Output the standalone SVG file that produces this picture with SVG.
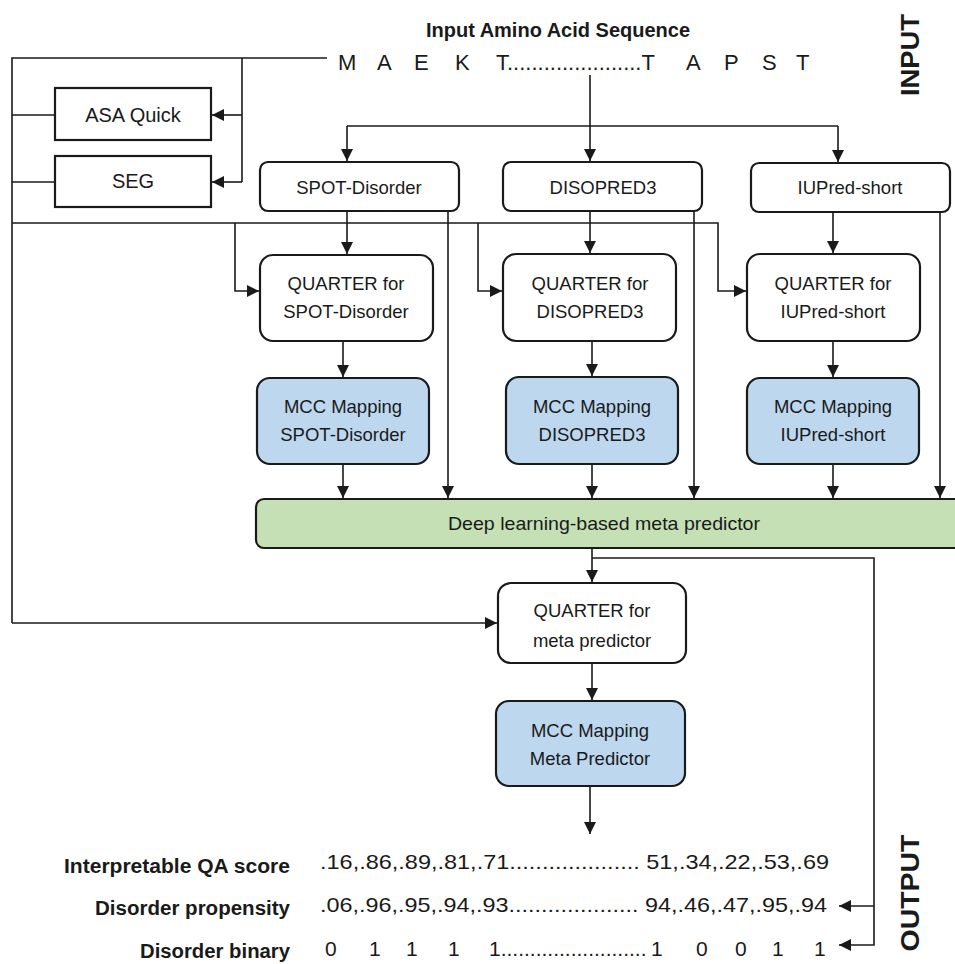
<svg xmlns="http://www.w3.org/2000/svg" width="955" height="964" viewBox="0 0 955 964">
<defs>
<style>
text{font-family:"Liberation Sans",Arial,sans-serif;fill:#1a1a1a;}
.lbl{font-size:18.5px;text-anchor:middle;}
.big{font-size:20px;text-anchor:middle;}
.b{font-weight:bold;}
.sq{fill:#fff;stroke:#1a1a1a;stroke-width:2.2;}
.rb{fill:#fff;stroke:#1a1a1a;stroke-width:2.2;}
.blue{fill:#BDD7EE;stroke:#1a1a1a;stroke-width:2.2;}
.green{fill:#C5E0B4;stroke:#1a1a1a;stroke-width:2.2;}
.ln{fill:none;stroke:#1a1a1a;stroke-width:1.6;}
.ar{fill:none;stroke:#1a1a1a;stroke-width:1.6;marker-end:url(#arr);}
.val{font-size:21px;}
.rowlbl{font-size:20px;font-weight:bold;text-anchor:end;}
</style>
<marker id="arr" viewBox="0 0 10 10" refX="10" refY="5" markerWidth="12" markerHeight="12" orient="auto" markerUnits="userSpaceOnUse">
<path d="M0,0 L10,5 L0,10 z" fill="#1a1a1a"/>
</marker>
</defs>

<g id="connectors">
<path class="ln" d="M327,58 H12 V623"/>
<path class="ar" d="M12,623 H497"/>
<path class="ln" d="M242,58 V182"/>
<path class="ar" d="M242,115 H212"/>
<path class="ar" d="M242,182 H212"/>
<path class="ln" d="M12,115 H55"/>
<path class="ln" d="M12,182 H55"/>
<path class="ar" d="M12,223 H718 V291 H746"/>
<path class="ar" d="M235,223 V291 H259"/>
<path class="ar" d="M478,223 V291 H502"/>
<path class="ar" d="M590,75 V161"/>
<path class="ln" d="M347,126 H838"/>
<path class="ar" d="M347,126 V161"/>
<path class="ar" d="M838,126 V162"/>
<path class="ar" d="M347,211 V254"/>
<path class="ar" d="M448,211 V498"/>
<path class="ar" d="M590,211 V253"/>
<path class="ar" d="M694,211 V498"/>
<path class="ar" d="M833,212 V253"/>
<path class="ar" d="M940,212 V498"/>
<path class="ar" d="M343,341 V377"/>
<path class="ar" d="M592,341 V376"/>
<path class="ar" d="M833,341 V377"/>
<path class="ar" d="M343,464 V498"/>
<path class="ar" d="M592,464 V498"/>
<path class="ar" d="M833,464 V498"/>
<path class="ar" d="M592,548 V582"/>
<path class="ar" d="M592,558 H874 V945 H839"/>
<path class="ar" d="M874,906 H839"/>
<path class="ar" d="M592,663 V700"/>
<path class="ar" d="M590,786 V834"/>
</g>

<g id="title">
<text class="big b" x="558" y="37">Input Amino Acid Sequence</text>
<text style="font-size:22px"><tspan x="338" y="70">M</tspan><tspan x="377" y="70">A</tspan><tspan x="414" y="70">E</tspan><tspan x="455" y="70">K</tspan><tspan x="496" y="70">T......................T</tspan><tspan x="686" y="70">A</tspan><tspan x="724" y="70">P</tspan><tspan x="762" y="70">S</tspan><tspan x="796" y="70">T</tspan></text>
<text class="b" transform="translate(919,55) rotate(-90)" style="font-size:26px;text-anchor:middle" textLength="82" lengthAdjust="spacingAndGlyphs">INPUT</text>
</g>

<g id="asa-quick">
<rect class="sq" x="55" y="88" width="156" height="52"/>
<text class="big" x="133" y="122">ASA Quick</text>
</g>
<g id="seg">
<rect class="sq" x="55" y="156" width="156" height="51"/>
<text class="big" x="133" y="188">SEG</text>
</g>

<g id="spot-disorder">
<rect class="rb" x="260" y="162" width="199" height="49" rx="8"/>
<text class="lbl" x="359" y="194">SPOT-Disorder</text>
</g>
<g id="disopred3">
<rect class="rb" x="503" y="162" width="199" height="49" rx="8"/>
<text class="lbl" x="603" y="194">DISOPRED3</text>
</g>
<g id="iupred-short">
<rect class="rb" x="751" y="163" width="199" height="49" rx="8"/>
<text class="lbl" x="850" y="194">IUPred-short</text>
</g>

<g id="quarter-spot">
<rect class="rb" x="260" y="255" width="173" height="86" rx="13"/>
<text class="lbl" x="346" y="290">QUARTER for</text>
<text class="lbl" x="346" y="318">SPOT-Disorder</text>
</g>
<g id="quarter-disopred">
<rect class="rb" x="503" y="254" width="173" height="87" rx="13"/>
<text class="lbl" x="590" y="290">QUARTER for</text>
<text class="lbl" x="590" y="318">DISOPRED3</text>
</g>
<g id="quarter-iupred">
<rect class="rb" x="747" y="254" width="173" height="87" rx="13"/>
<text class="lbl" x="833" y="290">QUARTER for</text>
<text class="lbl" x="833" y="318">IUPred-short</text>
</g>

<g id="mcc-spot">
<rect class="blue" x="257" y="378" width="172" height="86" rx="13"/>
<text class="lbl" x="343" y="413">MCC Mapping</text>
<text class="lbl" x="343" y="441">SPOT-Disorder</text>
</g>
<g id="mcc-disopred">
<rect class="blue" x="506" y="377" width="172" height="87" rx="13"/>
<text class="lbl" x="592" y="413">MCC Mapping</text>
<text class="lbl" x="592" y="441">DISOPRED3</text>
</g>
<g id="mcc-iupred">
<rect class="blue" x="747" y="378" width="172" height="86" rx="13"/>
<text class="lbl" x="833" y="413">MCC Mapping</text>
<text class="lbl" x="833" y="441">IUPred-short</text>
</g>

<g id="meta-predictor">
<rect class="green" x="256" y="499" width="712" height="49" rx="8"/>
<text class="lbl" x="604" y="530" textLength="312" lengthAdjust="spacingAndGlyphs">Deep learning-based meta predictor</text>
</g>

<g id="quarter-meta">
<rect class="rb" x="498" y="583" width="188" height="80" rx="13"/>
<text class="lbl" x="592" y="617">QUARTER for</text>
<text class="lbl" x="592" y="647">meta predictor</text>
</g>

<g id="mcc-meta">
<rect class="blue" x="496" y="701" width="189" height="85" rx="13"/>
<text class="lbl" x="590" y="737">MCC Mapping</text>
<text class="lbl" x="590" y="765">Meta Predictor</text>
</g>

<g id="output">
<text class="rowlbl" x="290" y="873" textLength="226" lengthAdjust="spacingAndGlyphs">Interpretable QA score</text>
<text class="rowlbl" x="290" y="915" textLength="195" lengthAdjust="spacingAndGlyphs">Disorder propensity</text>
<text class="rowlbl" x="290" y="958" textLength="150" lengthAdjust="spacingAndGlyphs">Disorder binary</text>
<text class="val" x="320" y="869" textLength="509" lengthAdjust="spacingAndGlyphs">.16,.86,.89,.81,.71.................... 51,.34,.22,.53,.69</text>
<text class="val" x="320" y="912" textLength="507" lengthAdjust="spacingAndGlyphs">.06,.96,.95,.94,.93.................... 94,.46,.47,.95,.94</text>
<text class="val"><tspan x="325" y="956">0</tspan><tspan x="369" y="956">1</tspan><tspan x="406" y="956">1</tspan><tspan x="448" y="956">1</tspan><tspan x="489" y="956">1.........................</tspan><tspan x="651" y="956">1</tspan><tspan x="696" y="956">0</tspan><tspan x="735" y="956">0</tspan><tspan x="772" y="956">1</tspan><tspan x="814" y="956">1</tspan></text>
<text class="b" transform="translate(919,893) rotate(-90)" style="font-size:26px;text-anchor:middle" textLength="117" lengthAdjust="spacingAndGlyphs">OUTPUT</text>
</g>
</svg>
